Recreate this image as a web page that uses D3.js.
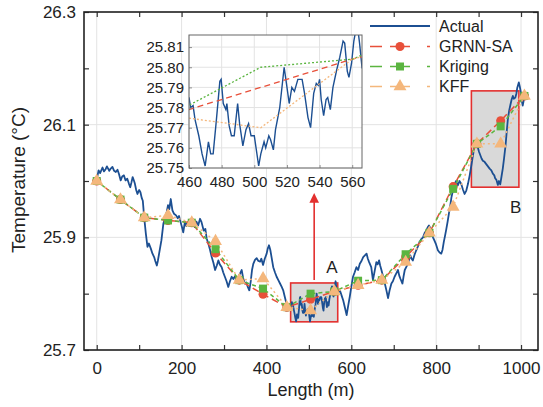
<!DOCTYPE html>
<html lang="en">
  <head>
    <meta charset="UTF-8" />
    <script src="https://cdnjs.cloudflare.com/ajax/libs/d3/7.8.5/d3.min.js"></script>
    <title>Temperature along length</title>
    <style>
      body {
        margin: 0;
        background: white;
      }
      text {
        font-family: "Liberation Sans", Arial, sans-serif;
        fill: #222;
      }
      .grid line {
        stroke: #e3e3e3;
        stroke-width: 1;
      }
      .axis path {
        display: none;
      }
      .axis line {
        stroke: #333;
        stroke-width: 1.2;
      }
      .axis text {
        font-size: 17px;
      }
      .inset .axis text {
        font-size: 15px;
      }
      .inset .axis line {
        stroke: #777;
        stroke-width: 0.8;
      }
    </style>
  </head>
  <body>
    <script>
      // sampled points of the three models
      const sampleLength = [0, 56, 112, 168, 224, 280, 336, 392, 448, 504, 560, 616, 672, 728, 784, 840, 896, 952, 1008];
      const grnnSA = [26.0, 25.967, 25.935, 25.93, 25.926, 25.872, 25.824, 25.799, 25.776, 25.79, 25.804, 25.815, 25.824, 25.865, 25.908, 25.99, 26.066, 26.107, 26.151];
      const kriging = [26.0, 25.967, 25.935, 25.93, 25.926, 25.879, 25.824, 25.809, 25.776, 25.8, 25.804, 25.823, 25.824, 25.87, 25.908, 25.986, 26.066, 26.097, 26.151];
      const kff = [26.0, 25.967, 25.935, 25.939, 25.926, 25.893, 25.824, 25.827, 25.776, 25.77, 25.804, 25.815, 25.824, 25.856, 25.908, 25.954, 26.066, 26.066, 26.151];

      // measured curve
      const actualLength = [
        0, 2, 4.5, 8, 13.6, 17, 21, 24, 29.6, 33, 37, 41, 45, 49, 52.6, 56.5, 60, 64, 68, 72, 76, 79, 82, 84.7, 88, 90, 93, 96, 100, 103, 106, 108.6,
        111.8, 115.7, 119.6, 123, 127.5, 131.4, 135.3, 138, 141.6, 144, 147, 152.5, 157, 162.7, 165, 168, 171, 174.5, 178.4, 182, 187, 191, 194, 197.6,
        201, 203.9, 207.8, 211, 214, 218, 222, 227.5, 231, 235, 239, 243.5, 247, 252, 256, 259, 263, 267, 271, 275, 279, 283, 286.6, 290, 294.5, 298,
        302, 306, 310, 314, 318, 322, 326, 330, 334, 338, 341.6, 345, 349, 353, 356, 359.6, 363, 366, 369, 373, 377, 381, 385, 388, 392, 396, 400.5,
        403, 406, 409, 412, 416, 420, 424, 428, 432, 436, 439.5, 443, 447, 451, 455, 458, 460, 461, 462.5, 463.7, 466, 468, 469.9, 471.9, 473.3,
        474.8, 476.8, 478.9, 479.7, 481, 482.6, 483.2, 484.6, 486, 487.7, 489.8, 491, 493, 494.9, 496.5, 498, 500, 502.7, 504, 506, 507, 508.9,
        510, 511.7, 513, 515.6, 518.3, 519.7, 521.4, 523, 524.6, 526.7, 529.3, 530.8, 532.9, 534.5, 536.4, 538, 539.2, 540, 541, 542.5, 544, 545,
        546.6, 548.2, 550.3, 552.4, 554.4, 555.4, 557, 558, 559.6, 561, 563, 564.5, 566, 570, 573, 577, 581, 585, 589, 593, 596.5, 600, 604, 608,
        612, 616, 620, 624, 628, 632, 636, 639, 642, 647, 651, 655, 659, 662, 665.5, 668, 671, 675, 679, 683, 686.6, 690, 694.5, 698, 702, 706,
        710, 713, 716, 720.5, 723, 726, 730, 733.6, 736, 739, 742, 745, 749, 753, 757, 761, 765, 769, 773, 777, 780, 783, 787, 790, 792.5, 796,
        799, 802, 804, 808, 812, 815, 818, 821, 824, 827, 830, 833, 836, 840, 843.5, 847, 851, 855, 859, 863, 867, 871, 875, 879, 883, 886.6, 890,
        893, 896, 898, 901, 903, 907, 910, 914, 918, 922, 926, 930, 933.6, 937, 939, 942, 945.4, 948, 951, 954, 957, 960, 963.5, 966, 969, 972,
        974.6, 978, 980.7, 983, 986.5, 989, 991, 994.8, 997, 1000.4, 1002, 1004, 1006, 1008
      ];
      const actualTemp = [
        26.005, 26.01, 26.019, 26.014, 26.024, 26.017, 26.021, 26.026, 26.018, 26.022, 26.025, 26.018, 26.016, 26.02, 26.012, 26.001, 26.008, 26.01,
        26.001, 26.004, 25.995, 25.989, 25.998, 26.007, 26.0, 25.995, 25.984, 25.977, 25.984, 25.98, 25.97, 25.965, 25.936, 25.907, 25.883, 25.889,
        25.88, 25.871, 25.865, 25.858, 25.85, 25.858, 25.871, 25.895, 25.924, 25.939, 25.945, 25.957, 25.95, 25.968, 25.948, 25.942, 25.939, 25.934,
        25.938, 25.927, 25.918, 25.909, 25.927, 25.92, 25.926, 25.921, 25.93, 25.925, 25.918, 25.928, 25.921, 25.933, 25.927, 25.912, 25.915, 25.898,
        25.889, 25.878, 25.865, 25.855, 25.842, 25.85, 25.859, 25.852, 25.847, 25.838, 25.83, 25.822, 25.812, 25.822, 25.83, 25.826, 25.831, 25.824,
        25.83, 25.836, 25.842, 25.828, 25.818, 25.82, 25.812, 25.806, 25.822, 25.842, 25.853, 25.86, 25.863, 25.858, 25.857, 25.862, 25.851, 25.862,
        25.871, 25.88, 25.886, 25.878, 25.865, 25.847, 25.838, 25.83, 25.824, 25.818, 25.812, 25.806, 25.795, 25.783, 25.778, 25.771, 25.78, 25.785,
        25.78, 25.781, 25.774, 25.766, 25.757, 25.751, 25.763, 25.757, 25.757, 25.774, 25.793, 25.794, 25.782, 25.779, 25.782, 25.771, 25.766,
        25.766, 25.782, 25.772, 25.761, 25.769, 25.772, 25.766, 25.766, 25.751, 25.757, 25.763, 25.76, 25.766, 25.764, 25.759, 25.769, 25.78, 25.8,
        25.792, 25.782, 25.79, 25.788, 25.794, 25.794, 25.787, 25.775, 25.77, 25.787, 25.792, 25.791, 25.794, 25.784, 25.776, 25.784, 25.785,
        25.779, 25.79, 25.798, 25.805, 25.813, 25.812, 25.798, 25.795, 25.802, 25.813, 25.822, 25.812, 25.8, 25.803, 25.806, 25.797, 25.788,
        25.775, 25.762, 25.78, 25.795, 25.812, 25.83, 25.838, 25.847, 25.842, 25.853, 25.858, 25.865, 25.868, 25.871, 25.862, 25.856, 25.847,
        25.824, 25.84, 25.856, 25.852, 25.859, 25.85, 25.842, 25.83, 25.818, 25.805, 25.792, 25.805, 25.818, 25.822, 25.83, 25.836, 25.842, 25.832,
        25.826, 25.818, 25.83, 25.842, 25.848, 25.853, 25.86, 25.868, 25.862, 25.859, 25.869, 25.877, 25.884, 25.892, 25.897, 25.9, 25.908, 25.912,
        25.918, 25.921, 25.915, 25.906, 25.9, 25.894, 25.889, 25.882, 25.877, 25.873, 25.871, 25.878, 25.892, 25.903, 25.915, 25.928, 25.942,
        25.955, 25.971, 25.985, 25.995, 26.0, 25.992, 26.0, 25.995, 25.985, 25.977, 25.983, 25.995, 26.01, 26.028, 26.045, 26.06, 26.069, 26.062,
        26.06, 26.052, 26.048, 26.04, 26.036, 26.034, 26.03, 26.026, 26.022, 26.019, 26.013, 26.01, 26.005, 26.002, 25.993, 26.0, 25.994, 26.008,
        26.022, 26.04, 26.063, 26.085, 26.11, 26.125, 26.134, 26.145, 26.151, 26.146, 26.148, 26.155, 26.165, 26.175, 26.168, 26.154, 26.142,
        26.134, 26.142, 26.151
      ];

      const xTicks = [0, 200, 400, 600, 800, 1000];
      const yTicks = [25.7, 25.9, 26.1, 26.3];
      const insetXTicks = [460, 480, 500, 520, 540, 560];
      const insetYTicks = [25.75, 25.76, 25.77, 25.78, 25.79, 25.8, 25.81];
      const seriesNames = ["Actual", "GRNN-SA", "Kriging", "KFF"];
      // zoom windows: [x0, x1, y0, y1]
      const boxA = [457, 568, 25.75, 25.819];
      const boxB = [883, 995, 25.989, 26.16];

      const colors = {
        actual: "#1c4f92",
        grnn: "#e8503a",
        kriging: "#5bb540",
        kff: "#f4b77c",
      };

      const W = 543, H = 407;
      const pl = 84, pr = 538, pt = 12, pb = 350;

      const svg = d3.select("body").append("svg").attr("width", W).attr("height", H);

      const x = d3.scaleLinear().domain([-30, 1040]).range([pl, pr]);
      const y = d3.scaleLinear().domain([25.7, 26.3]).range([pb, pt]);

      const actual = actualLength.map((l, i) => [l, actualTemp[i]]);
      const models = [
        { key: "grnn", values: grnnSA, dash: "7,4", shape: d3.symbolCircle, size: 64 },
        { key: "kriging", values: kriging, dash: "4,3", shape: d3.symbolSquare, size: 64 },
        { key: "kff", values: kff, dash: "2,3", shape: d3.symbolTriangle, size: 72 },
      ];

      const defs = svg.append("defs");
      defs.append("clipPath").attr("id", "mainClip")
        .append("rect").attr("x", pl).attr("y", pt).attr("width", pr - pl).attr("height", pb - pt);

      // grid
      const grid = svg.append("g").attr("class", "grid");
      grid.selectAll(".gx").data(xTicks).enter().append("line")
        .attr("x1", d => x(d)).attr("x2", d => x(d)).attr("y1", pt).attr("y2", pb);
      grid.selectAll(".gy").data(yTicks).enter().append("line")
        .attr("x1", pl).attr("x2", pr).attr("y1", d => y(d)).attr("y2", d => y(d));

      const plot = svg.append("g").attr("clip-path", "url(#mainClip)");

      // zoom boxes
      [boxA, boxB].forEach(b => {
        plot.append("rect")
          .attr("x", x(b[0])).attr("y", y(b[3]))
          .attr("width", x(b[1]) - x(b[0])).attr("height", y(b[2]) - y(b[3]))
          .attr("fill", "#d9d9d9").attr("stroke", "#e3302f").attr("stroke-width", 1.6);
      });

      const line = d3.line().x(d => x(d[0])).y(d => y(d[1]));
      plot.append("path").datum(actual)
        .attr("fill", "none").attr("stroke", colors.actual).attr("stroke-width", 1.8)
        .attr("stroke-linejoin", "round").attr("d", line);

      models.forEach(m => {
        plot.append("path").datum(sampleLength.map((l, i) => [l, m.values[i]]))
          .attr("fill", "none").attr("stroke", colors[m.key]).attr("stroke-width", 1.5)
          .attr("stroke-dasharray", m.dash).attr("d", line);
      });
      models.forEach(m => {
        plot.selectAll(".m-" + m.key).data(sampleLength.map((l, i) => [l, m.values[i]]))
          .enter().append("path")
          .attr("transform", d => `translate(${x(d[0])},${y(d[1])})`)
          .attr("d", d3.symbol().type(m.shape).size(m.size))
          .attr("fill", colors[m.key]);
      });

      // axes with inward ticks
      svg.append("g").attr("class", "axis").attr("transform", `translate(0,${pb})`)
        .call(d3.axisBottom(x).tickValues(d3.range(0, 1001, 100)).tickSizeInner(-5).tickPadding(12)
          .tickFormat(d => (d % 200 === 0 ? d : "")));
      svg.append("g").attr("class", "axis").attr("transform", `translate(0,${pt})`)
        .call(d3.axisTop(x).tickValues(d3.range(0, 1001, 100)).tickSizeInner(-5).tickFormat(""));
      svg.append("g").attr("class", "axis").attr("transform", `translate(${pl},0)`)
        .call(d3.axisLeft(y).tickValues(d3.range(0, 7).map(i => 25.7 + i * 0.1)).tickSizeInner(-5).tickPadding(8)
          .tickFormat((d, i) => (i % 2 === 0 ? d3.format(".1f")(d) : "")));
      svg.append("g").attr("class", "axis").attr("transform", `translate(${pr},0)`)
        .call(d3.axisRight(y).tickValues(d3.range(0, 7).map(i => 25.7 + i * 0.1)).tickSizeInner(-5).tickFormat(""));

      svg.append("rect").attr("x", pl).attr("y", pt).attr("width", pr - pl).attr("height", pb - pt)
        .attr("fill", "none").attr("stroke", "#222").attr("stroke-width", 1.6);

      svg.append("text").attr("x", (pl + pr) / 2).attr("y", 396).attr("text-anchor", "middle")
        .style("font-size", "18px").text("Length (m)");
      svg.append("text").attr("transform", `translate(25,${(pt + pb) / 2 - 1}) rotate(-90)`)
        .attr("text-anchor", "middle").style("font-size", "19px").text("Temperature (°C)");

      // arrow from box A to inset
      defs.append("marker").attr("id", "arrow").attr("viewBox", "0 0 10 10").attr("refX", 8).attr("refY", 5)
        .attr("markerWidth", 6).attr("markerHeight", 6).attr("orient", "auto")
        .append("path").attr("d", "M0,0 L10,5 L0,10 Z").attr("fill", "#e3302f");
      const ax = x((boxA[0] + boxA[1]) / 2);
      svg.append("line").attr("x1", ax).attr("x2", ax).attr("y1", y(boxA[3]) - 3).attr("y2", 195)
        .attr("stroke", "#e3302f").attr("stroke-width", 1.6).attr("marker-end", "url(#arrow)");
      svg.append("text").attr("x", ax + 12).attr("y", 273).style("font-size", "17px").text("A");
      svg.append("text").attr("x", x(boxB[1]) - 9).attr("y", 213).style("font-size", "17px").text("B");

      // inset
      const il = 189, ir = 362, it = 35, ib = 168;
      const xi = d3.scaleLinear().domain([460, 566]).range([il, ir]);
      const yi = d3.scaleLinear().domain([25.75, 25.816]).range([ib, it]);
      const inset = svg.append("g").attr("class", "inset");
      inset.append("rect").attr("x", il).attr("y", it).attr("width", ir - il).attr("height", ib - it).attr("fill", "white");
      defs.append("clipPath").attr("id", "insetClip")
        .append("rect").attr("x", il).attr("y", it).attr("width", ir - il).attr("height", ib - it);
      const ig = inset.append("g").attr("class", "grid");
      ig.selectAll(".ix").data(insetXTicks).enter().append("line")
        .attr("x1", d => xi(d)).attr("x2", d => xi(d)).attr("y1", it).attr("y2", ib);
      ig.selectAll(".iy").data(insetYTicks).enter().append("line")
        .attr("x1", il).attr("x2", ir).attr("y1", d => yi(d)).attr("y2", d => yi(d));
      const iplot = inset.append("g").attr("clip-path", "url(#insetClip)");
      const iline = d3.line().x(d => xi(d[0])).y(d => yi(d[1]));
      iplot.append("path").datum(actual)
        .attr("fill", "none").attr("stroke", colors.actual).attr("stroke-width", 1.4).attr("d", iline);
      models.forEach(m => {
        iplot.append("path").datum(sampleLength.map((l, i) => [l, m.values[i]]))
          .attr("fill", "none").attr("stroke", colors[m.key]).attr("stroke-width", 1.3)
          .attr("stroke-dasharray", m.key === "grnn" ? "6,4" : "2,2").attr("d", iline);
      });
      inset.append("g").attr("class", "axis").attr("transform", `translate(0,${ib})`)
        .call(d3.axisBottom(xi).tickValues(insetXTicks).tickSizeInner(-3).tickPadding(8));
      inset.append("g").attr("class", "axis").attr("transform", `translate(${il},0)`)
        .call(d3.axisLeft(yi).tickValues(insetYTicks).tickSizeInner(-3).tickPadding(5).tickFormat(d3.format(".2f")));
      inset.append("rect").attr("x", il).attr("y", it).attr("width", ir - il).attr("height", ib - it)
        .attr("fill", "none").attr("stroke", "#666").attr("stroke-width", 1);

      // legend
      const legend = svg.append("g");
      const rowY = [26, 46.5, 66.5, 86.5];
      const legendKeys = ["actual", "grnn", "kriging", "kff"];
      legendKeys.forEach((k, i) => {
        const g = legend.append("g").attr("transform", `translate(0,${rowY[i]})`);
        g.append("line").attr("x1", 370).attr("x2", 430).attr("y1", 0).attr("y2", 0)
          .attr("stroke", colors[k]).attr("stroke-width", k === "actual" ? 1.8 : 1.6)
          .attr("stroke-dasharray", k === "actual" ? null : "12,8,20,17,3,20");
        if (i > 0) {
          const m = models[i - 1];
          g.append("path").attr("transform", "translate(400,0)")
            .attr("d", d3.symbol().type(m.shape).size(m.size)).attr("fill", colors[k]);
        }
        g.append("text").attr("x", 439).attr("y", 0).attr("dy", "0.35em")
          .style("font-size", "16px").text(seriesNames[i]);
      });
    </script>
  </body>
</html>
